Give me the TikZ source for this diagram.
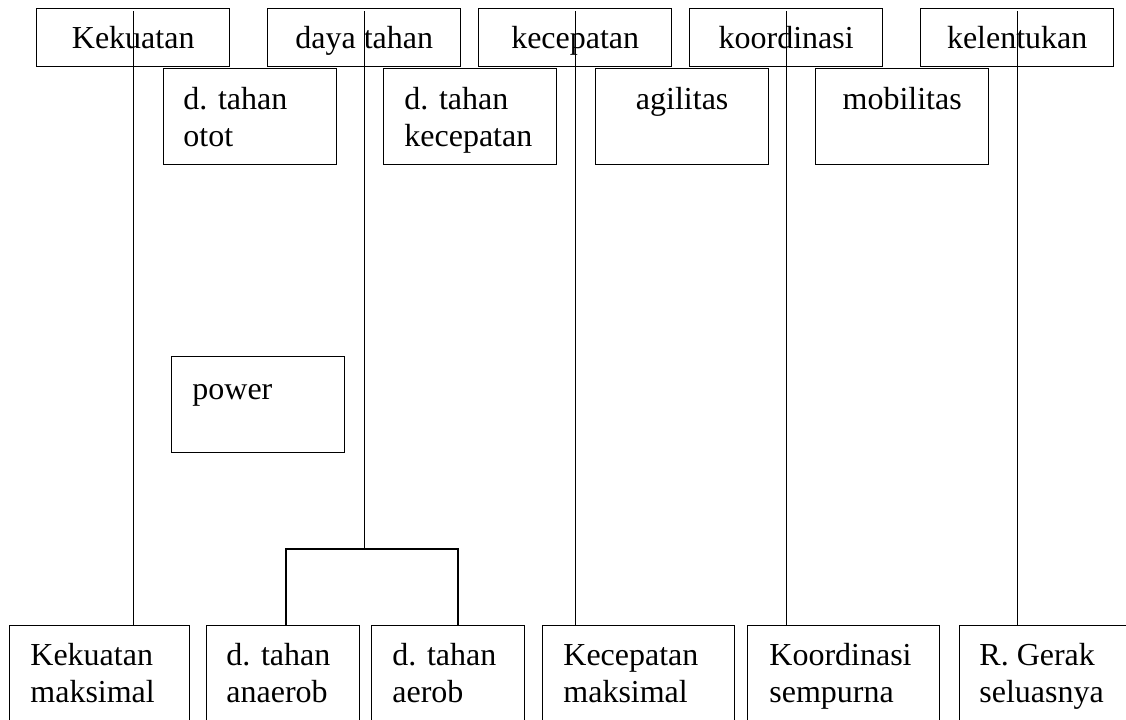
\documentclass[tikz,border=0pt]{standalone}
\usepackage{fontspec}
\setmainfont{Liberation Serif}

\begin{document}
\begin{tikzpicture}[x=0.5pt,y=-0.5pt,font=\fontsize{16pt}{18.5pt}\selectfont]
	\tikzstyle{kotak}=[draw,line width=0.7pt,inner sep=0pt,anchor=north west,fill=white]
	\tikzstyle{atas}=[kotak,minimum width=96.5pt,minimum height=29pt,text height=10.5pt,text depth=0pt]
	\tikzstyle{tengah}=[kotak,minimum width=86.5pt,minimum height=48pt]
	\tikzstyle{bawah}=[kotak,minimum height=70pt]
	\tikzstyle{teks}=[anchor=base west,inner sep=0pt,align=left]
	\tikzstyle{garis}=[line width=0.7pt]
	\useasboundingbox (0,0) rectangle (1126,719);
	\clip (0,0) rectangle (1126,719);
	% baris atas
	\node[atas] (kekuatan) at (36,8) {Kekuatan};
	\node[atas] (dayatahan) at (267,8) {daya tahan};
	\node[atas] (kecepatan) at (478,8) {kecepatan};
	\node[atas] (koordinasi) at (689,8) {koordinasi};
	\node[atas] (kelentukan) at (920,8) {kelentukan};
	% baris kedua
	\node[tengah] (otot) at (163,68) {};
	\node[tengah] (dtkec) at (383,68) {};
	\node[tengah] (agilitas) at (595,68) {};
	\node[tengah] (mobilitas) at (815,68) {};
	\node[tengah] (power) at (171,356) {};
	\node[teks] (ototT) at ([shift={(10pt,-39pt)}]otot.north west) {d. tahan\\otot};
	\node[teks] (dtkecT) at ([shift={(10.5pt,-39pt)}]dtkec.north west) {d. tahan\\kecepatan};
	\node[teks,anchor=base] (agilitasT) at ([yshift=-20.5pt]agilitas.north) {agilitas};
	\node[teks,anchor=base] (mobilitasT) at ([yshift=-20.5pt]mobilitas.north) {mobilitas};
	\node[teks] (powerT) at ([shift={(10.5pt,-21.5pt)}]power.north west) {power};
	% baris bawah
	\node[bawah,minimum width=90pt] (maksimal) at (9,625) {};
	\node[bawah,minimum width=76.5pt] (anaerob) at (206,625) {};
	\node[bawah,minimum width=76.5pt] (aerob) at (371,625) {};
	\node[bawah,minimum width=96pt] (kecmaks) at (542,625) {};
	\node[bawah,minimum width=96pt] (sempurna) at (747,625) {};
	\node[bawah,minimum width=100pt] (gerak) at (959,625) {};
	\node[teks] (maksimalT) at ([shift={(10.5pt,-38.5pt)}]maksimal.north west) {Kekuatan\\maksimal};
	\node[teks] (anaerobT) at ([shift={(10pt,-38.5pt)}]anaerob.north west) {d. tahan\\anaerob};
	\node[teks] (aerobT) at ([shift={(10.5pt,-38.5pt)}]aerob.north west) {d. tahan\\aerob};
	\node[teks] (kecmaksT) at ([shift={(10.5pt,-38.5pt)}]kecmaks.north west) {Kecepatan\\maksimal};
	\node[teks] (sempurnaT) at ([shift={(11pt,-38.5pt)}]sempurna.north west) {Koordinasi\\sempurna};
	\node[teks] (gerakT) at ([shift={(10pt,-38.5pt)}]gerak.north west) {R. Gerak\\seluasnya};
	% garis
	\coordinate (cabangKi) at (286,549);
	\coordinate (cabangKa) at (458,549);
	\draw[garis] ([yshift=-1.5pt]kekuatan.north) -- (kekuatan.north |- maksimal.north);
	\draw[garis] ([yshift=-1.5pt]dayatahan.north) -- (dayatahan.north |- cabangKi);
	\draw[garis] (anaerob.north -| cabangKi) -- (cabangKi) -- (cabangKa) -- (cabangKa |- aerob.north);
	\draw[garis] ([yshift=-1.5pt]kecepatan.north) -- (kecepatan.north |- kecmaks.north);
	\draw[garis] ([yshift=-1.5pt]koordinasi.north) -- (koordinasi.north |- sempurna.north);
	\draw[garis] ([yshift=-1.5pt]kelentukan.north) -- (kelentukan.north |- gerak.north);
\end{tikzpicture}
\end{document}
